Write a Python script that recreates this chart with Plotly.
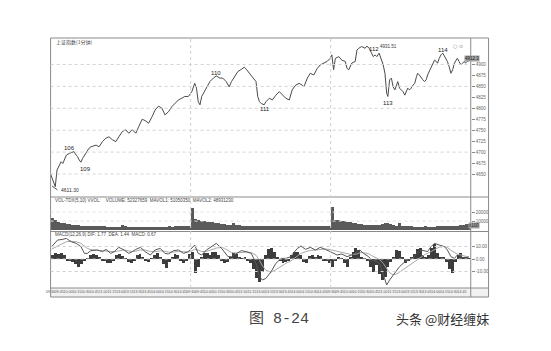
import plotly.graph_objects as go

W, H = 551, 351
def px(x):
    return x / W
def py(y):
    return 1 - y / H

# ---------------- data ----------------
# price panel: minute index (3 trading days of 1-minute bars) and index level
price_t = [0, 8, 11, 15, 18, 21, 24, 27, 32, 40, 44, 46, 49, 52, 55, 58, 63, 66, 69, 75,
           78, 83, 89, 95, 100, 106, 112, 117, 123, 129, 134, 140, 146, 151, 157, 162, 168, 174, 179, 185,
           191, 196, 202, 208, 213, 219, 225, 230, 236, 242, 247, 250, 253, 256, 259, 262, 267, 273, 279, 284,
           290, 295, 301, 306, 310, 315, 321, 327, 332, 336, 341, 346, 352, 355, 358, 361, 366, 369, 375, 380,
           386, 392, 397, 403, 409, 414, 420, 426, 431, 434, 440, 445, 451, 457, 462, 468, 474, 479, 482, 485,
           488, 494, 499, 505, 508, 511, 516, 522, 525, 528, 533, 539, 542, 546, 550, 553, 556, 559, 563, 567,
           570, 573, 576, 578, 581, 584, 587, 590, 593, 595, 598, 601, 604, 607, 610, 612, 615, 618, 621, 624,
           627, 629, 632, 635, 638, 641, 644, 646, 649, 652, 655, 658, 661, 663, 666, 669, 672, 675, 678, 680,
           683, 686, 689, 692, 695, 697, 700, 703, 706, 709, 711, 714, 719]
price_val = [4650, 4621, 4659, 4671, 4678, 4674, 4686, 4693, 4697, 4701, 4693, 4690, 4682, 4677, 4686, 4693, 4705, 4709, 4712, 4714,
             4716, 4712, 4724, 4732, 4735, 4728, 4724, 4735, 4747, 4751, 4743, 4751, 4743, 4758, 4775, 4772, 4766, 4781, 4796, 4805,
             4800, 4785, 4792, 4804, 4811, 4819, 4823, 4827, 4827, 4838, 4857, 4846, 4815, 4808, 4827, 4834, 4849, 4861, 4869, 4874,
             4869, 4869, 4861, 4849, 4861, 4872, 4884, 4889, 4894, 4888, 4880, 4872, 4861, 4827, 4815, 4811, 4808, 4815, 4823, 4819,
             4830, 4838, 4830, 4823, 4819, 4842, 4853, 4857, 4853, 4849, 4869, 4880, 4876, 4891, 4899, 4903, 4907, 4914, 4922, 4888,
             4914, 4918, 4910, 4907, 4891, 4888, 4903, 4907, 4933, 4937, 4941, 4937, 4942, 4937, 4926, 4918, 4922, 4918, 4926, 4910,
             4899, 4880, 4834, 4827, 4865, 4869, 4849, 4842, 4857, 4861, 4846, 4842, 4838, 4830, 4838, 4846, 4842, 4846, 4853, 4857,
             4872, 4880, 4876, 4869, 4865, 4861, 4866, 4876, 4884, 4895, 4903, 4910, 4907, 4903, 4914, 4922, 4926, 4919, 4914, 4907,
             4895, 4880, 4888, 4903, 4910, 4914, 4907, 4899, 4903, 4907, 4903, 4907, 4910]
price_ticks = [4650, 4675, 4700, 4725, 4750, 4775, 4800, 4825, 4850, 4875, 4900]
price_grid = [4650, 4700, 4750, 4800, 4850, 4900]

# volume, one value per 5 minutes
volume = [14000, 11000, 9000, 8000, 7500, 7000, 6500, 6000, 5500, 5500,
          5000, 5000, 4800, 4600, 4500, 4500, 4300, 4200, 4200, 4000,
          4000, 3900, 3800, 4000, 5500, 4200, 4000, 3900, 3800, 3700,
          3800, 3900, 3700, 3600, 3800, 3900, 4000, 3800, 3900, 4000,
          4100, 4000, 4200, 4300, 4200, 4400, 4500, 5000,
          25000, 12000, 11000, 10500, 10000, 9500, 9000, 8500, 8000, 7500,
          7000, 6500, 6000, 5800, 7500, 5500, 5200, 5000, 4900, 4800,
          4700, 4600, 4500, 4500, 5000, 4600, 4400, 4300, 4300, 4200,
          4400, 4300, 4200, 4100, 4300, 4200, 4100, 4200, 4300, 4200,
          4300, 4400, 4300, 4400, 4500, 4500, 4600, 5000,
          26000, 11500, 11000, 10500, 10000, 9000, 8500, 8000, 7500, 7000,
          6500, 6000, 6000, 5500, 5500, 5500, 6000, 7000, 7500, 7500,
          7000, 6000, 5000, 8000, 4500, 4300, 4200, 4100, 4000, 4000,
          3900, 4000, 4100, 4000, 3900, 4000, 4100, 4200, 4100, 4200,
          4300, 4400, 4500, 5000, 5500, 6000, 6500, 7000]
vol_ticks = [10000, 20000]
vol_ticktext = ["10000", "20000"]

# MACD histogram, one value per 5 minutes
macd_hist = [3.5, 4.5, 4.0, 4.5, 3.0, -1.0, -1.5, -2.5, -4.0, -6.0,
             -4.0, -1.0, 0.5, 3.0, 4.0, 3.0, 1.0, -1.0, -1.5, -3.5,
             -3.0, -1.0, 3.0, 4.0, 2.5, 0.5, -2.0, -3.0, -1.5, 3.0,
             4.0, 1.5, -1.5, -2.5, 0.5, 3.0, 5.0, 2.0, -4.0, -7.5,
             -2.0, 2.0, 4.0, 3.0, -1.0, -3.0, -1.0, 4.0, 6.0, -11.5,
             -6.0, 2.0, 5.0, 4.5, 3.0, 5.5, 6.0, 3.0, -1.0, -3.5,
             -2.5, 2.0, 4.5, 4.0, 2.0, 0.5, 1.0, -1.0, -3.0, -8.0,
             -15.0, -18.0, -10.0, 3.0, 8.0, 8.5, 6.0, 2.0, -1.0, -3.0,
             -2.0, -1.0, 3.0, 5.5, 6.0, 3.0, -2.0, -3.0, 2.5, 3.0,
             1.0, 3.0, 2.5, -1.0, -1.5, -3.0, -6.0, -1.0, 1.0, 0.5,
             -3.0, -6.0, 2.0, 6.0, 8.5, 7.0, 2.0, 0.5, -1.0, -6.0,
             -10.0, -5.0, -12.0, -16.5, -14.0, -6.0, -2.0, 2.0, 7.5, 6.5,
             2.0, -3.5, -1.0, 1.0, 4.0, 8.0, 8.5, 3.5, 2.0, 3.0,
             9.0, 12.0, 5.0, 2.0, 1.0, -2.0, -8.0, -11.5, -2.0, 3.0,
             5.0, 2.0, 1.0, 0.67]

# DIF / DEA lines
macd_t = [2, 12, 21, 27, 35, 44, 52, 58, 63, 69, 80, 89, 95, 103, 109, 117, 126, 134, 140, 146,
          154, 162, 171, 179, 188, 196, 202, 211, 219, 228, 236, 242, 247, 253, 259, 267, 276, 284, 293, 298,
          304, 310, 318, 327, 335, 344, 352, 358, 363, 369, 378, 386, 395, 403, 412, 414, 423, 429, 437, 445,
          454, 462, 471, 479, 485, 491, 499, 508, 516, 525, 530, 536, 545, 550, 559, 564, 570, 576, 581, 587,
          593, 598, 604, 612, 621, 627, 635, 641, 646, 652, 658, 666, 675, 680, 686, 692, 697, 703, 709, 717]
dif = [9.9, 15.2, 15.7, 16.5, 13.9, 12.5, 9.9, 4.5, 4.5, 6.7, 7.2, 5.9, 7.7, 4.5, 5.9, 9.3, 7.2, 4.5, 5.9, 7.7,
       9.3, 5.9, 3.2, 7.2, 8.5, 4.5, 4.0, 6.7, 7.2, 4.5, 5.9, 9.3, 11.2, 4.5, 3.2, 7.2, 9.9, 12.5, 8.5, 5.9,
       1.9, 1.9, 4.5, 6.7, 5.9, 4.5, -3.5, -14.1, -16.8, -15.5, -10.1, -3.5, 0.5, 0.5, 1.9, 3.5, 8.5, 10.4, 7.7, 9.3,
       7.2, 9.3, 7.7, 5.9, 4.5, 3.2, 4.0, 1.9, 3.2, 5.9, 7.2, 4.5, 1.9, -0.8, -2.1, -3.5, -11.5, -20.8, -16.8, -12.8,
       -8.8, -6.1, -3.5, -0.8, 0.5, 4.5, 7.2, 6.7, 5.9, 9.9, 12.5, 11.2, 9.9, 7.2, 1.9, 0.5, 3.2, 1.9, 0.5, 1.77]
dea = [8.0, 10.5, 12.5, 13.8, 14.2, 13.8, 12.5, 10.5, 8.5, 7.5, 7.0, 6.8, 6.8, 6.2, 5.8, 6.5, 7.2, 6.5, 6.0, 6.3,
       7.2, 7.2, 6.0, 5.8, 6.5, 6.2, 5.5, 5.5, 6.0, 5.8, 5.6, 6.5, 7.8, 7.2, 6.0, 6.0, 7.2, 8.8, 9.2, 8.5,
       6.8, 5.2, 4.8, 5.2, 5.5, 5.2, 3.0, -1.0, -5.5, -9.0, -10.5, -8.5, -5.5, -3.5, -1.5, -0.8, 2.0, 4.5, 5.8, 6.8,
       7.2, 7.8, 8.0, 7.5, 6.8, 5.8, 5.0, 4.0, 3.5, 4.0, 5.0, 5.2, 4.2, 2.8, 1.0, -0.5, -3.5, -8.0, -11.0, -12.5,
       -12.0, -10.5, -8.5, -6.0, -3.5, -1.0, 1.5, 3.5, 4.5, 6.0, 8.0, 9.5, 10.0, 9.2, 7.0, 5.0, 4.0, 3.2, 2.2, 1.44]
macd_ticks = [-10, 0, 10]
macd_ticktext = ["-10.00", "0.00", "10.00"]

# time axis labels (every 15 minutes)
day_times = ["09:30", "09:45", "10:00", "10:15", "10:30", "10:45", "11:00", "11:15",
             "13:00", "13:15", "13:30", "13:45", "14:00", "14:15", "14:30", "14:45"]
time_ticks = [15 * k for k in range(48)]
time_labels = day_times * 3
day_breaks = [240, 480]

# wave labels: position (minute, level) and text
wave_t = [32, 59, 284, 368, 554, 579, 672]
wave_v = [4709, 4661, 4881, 4798, 4935, 4812, 4933]
wave_txt = ["106", "109", "110", "111", "112", "113", "114"]
high_label_t, high_label_v, high_label = 562, 4940, "4931.51"

# ---------------- figure ----------------
vol_t = [5 * i + 2.5 for i in range(len(volume))]
hist_t = [5 * i + 2.5 for i in range(len(macd_hist))]

fig = go.Figure()
fig.add_trace(go.Scatter(x=price_t, y=price_val, mode="lines",
                         line=dict(color="#4a4a4a", width=1), xaxis="x", yaxis="y"))
fig.add_trace(go.Bar(x=vol_t, y=volume, width=5, marker=dict(color="#5a5a5a", line=dict(width=0)),
                     xaxis="x2", yaxis="y2"))
fig.add_trace(go.Bar(x=hist_t, y=macd_hist, width=5, marker=dict(color="#3c3c3c", line=dict(width=0)),
                     xaxis="x3", yaxis="y3"))
fig.add_trace(go.Scatter(x=macd_t, y=dea, mode="lines", line=dict(color="#a8a8a8", width=1),
                         xaxis="x3", yaxis="y3"))
fig.add_trace(go.Scatter(x=macd_t, y=dif, mode="lines", line=dict(color="#555555", width=1),
                         xaxis="x3", yaxis="y3"))

xdom = [px(46), px(470)]
common_x = dict(domain=xdom, range=[0, 720], showgrid=False, zeroline=False, showline=False,
                fixedrange=True)
tickfont = dict(family="Liberation Sans", size=4.5, color="#666")
common_y = dict(side="right", ticks="outside", ticklen=3, tickcolor="#888", tickwidth=1,
                showgrid=False, zeroline=False, showline=False, tickfont=tickfont)

fig.update_layout(
    width=W, height=H, margin=dict(l=0, r=0, t=0, b=0),
    paper_bgcolor="white", plot_bgcolor="white", showlegend=False,
    xaxis=dict(**common_x, anchor="y", showticklabels=False),
    xaxis2=dict(**common_x, anchor="y2", showticklabels=False, matches="x"),
    xaxis3=dict(**common_x, anchor="y3", matches="x", tickvals=time_ticks, ticktext=time_labels,
                ticks="", tickangle=0,
                tickfont=dict(family="Liberation Sans Narrow, Liberation Sans", size=3.6, color="#555")),
    yaxis=dict(**common_y, anchor="x", domain=[py(197), py(38)], range=[4597.5, 4960.5],
               tickvals=price_ticks),
    yaxis2=dict(**common_y, anchor="x2", domain=[py(231), py(197)], range=[-1000, 36800],
                tickvals=vol_ticks, ticktext=vol_ticktext),
    yaxis3=dict(**common_y, anchor="x3", domain=[py(288), py(232)], range=[-23.2, 21.6],
                tickvals=macd_ticks, ticktext=macd_ticktext),
    bargap=0,
)

shapes = []
frame = dict(color="#8a8a8a", width=1)
# light strip behind the time labels
shapes.append(dict(type="rect", xref="paper", yref="paper", x0=px(46), x1=px(488),
                   y0=py(297), y1=py(288), fillcolor="#f1f1f1", line=dict(width=0), layer="below"))
shapes.append(dict(type="rect", xref="paper", yref="paper", x0=px(46), x1=px(488),
                   y0=py(297), y1=py(38), line=frame))
shapes.append(dict(type="line", xref="paper", yref="paper", x0=px(470), x1=px(470),
                   y0=py(297), y1=py(38), line=frame))
for yy in (197, 231.5, 288):
    shapes.append(dict(type="line", xref="paper", yref="paper", x0=px(46), x1=px(488),
                       y0=py(yy), y1=py(yy), line=frame))
for g in price_grid:
    shapes.append(dict(type="line", xref="paper", yref="y", x0=xdom[0], x1=xdom[1], y0=g, y1=g,
                       line=dict(color="#d4d4d4", width=1, dash="dot")))
for g in vol_ticks:
    shapes.append(dict(type="line", xref="paper", yref="y2", x0=xdom[0], x1=xdom[1], y0=g, y1=g,
                       line=dict(color="#e0e0e0", width=1, dash="dot")))
for g in macd_ticks:
    shapes.append(dict(type="line", xref="paper", yref="y3", x0=xdom[0], x1=xdom[1], y0=g, y1=g,
                       line=dict(color="#d0d0d0", width=1, dash="dot")))
for d in day_breaks:
    shapes.append(dict(type="line", xref="x", yref="paper", x0=d, x1=d, y0=py(288), y1=py(38),
                       line=dict(color="#cfcfcf", width=1, dash="dot")))
# small pointer to the low
shapes.append(dict(type="line", xref="paper", yref="paper", x0=px(47.5), x1=px(53),
                   y0=py(186), y1=py(190), line=dict(color="#555", width=1)))
fig.update_layout(shapes=shapes)

ann = []
small = dict(family="Liberation Sans", size=4.5, color="#444")
ann.append(dict(xref="paper", yref="paper", x=px(49), y=py(42), text="上证指数(1分钟)",
                showarrow=False, xanchor="left", yanchor="middle",
                font=dict(family="Noto Sans CJK SC", size=5, color="#444")))
ann.append(dict(xref="paper", yref="paper", x=px(48), y=py(200),
                text="VOL-TDX(5,10) VVOL:    VOLUME: 52327659  MAVOL1: 51050350  MAVOL2: 48931230",
                showarrow=False, xanchor="left", yanchor="middle", font=small))
ann.append(dict(xref="paper", yref="paper", x=px(48), y=py(234.5),
                text="MACD(12,26,9) DIF: 1.77  DEA: 1.44  MACD: 0.67",
                showarrow=False, xanchor="left", yanchor="middle", font=small))
ann.append(dict(xref="paper", yref="paper", x=px(464), y=py(41), text="○ ⊙",
                showarrow=False, font=dict(family="DejaVu Sans", size=5, color="#888")))
ann.append(dict(xref="paper", yref="paper", x=px(479), y=py(55), text="4912.3",
                showarrow=False, bgcolor="#a0a0a0", borderpad=0,
                font=dict(family="Liberation Sans", size=4.5, color="#222")))
ann.append(dict(xref="paper", yref="paper", x=px(479), y=py(225.5), text="x100",
                showarrow=False, bgcolor="#a0a0a0", borderpad=0,
                font=dict(family="Liberation Sans", size=4.5, color="#222")))
for t, v, s in zip(wave_t, wave_v, wave_txt):
    ann.append(dict(xref="x", yref="y", x=t, y=v, text=s, showarrow=False, borderpad=0,
                    font=dict(family="Liberation Sans", size=6, color="#222")))
ann.append(dict(xref="x", yref="y", x=high_label_t, y=high_label_v, text=high_label,
                showarrow=False, xanchor="left", borderpad=0,
                font=dict(family="Liberation Sans", size=4.5, color="#333")))
ann.append(dict(xref="paper", yref="paper", x=px(55), y=py(190), text="4611.30",
                showarrow=False, xanchor="left", borderpad=0,
                font=dict(family="Liberation Sans", size=5, color="#333")))
ann.append(dict(xref="paper", yref="paper", x=px(277), y=py(330), text="图 8-24",
                showarrow=False, font=dict(family="Liberation Mono, Noto Sans CJK SC", size=15, color="#444")))
ann.append(dict(xref="paper", yref="paper", x=px(490), y=py(330), text="头条 @财经缠妹",
                showarrow=False, font=dict(family="Noto Sans CJK SC", size=13, color="#333")))
fig.update_layout(annotations=ann)

fig.write_html("out.html")
